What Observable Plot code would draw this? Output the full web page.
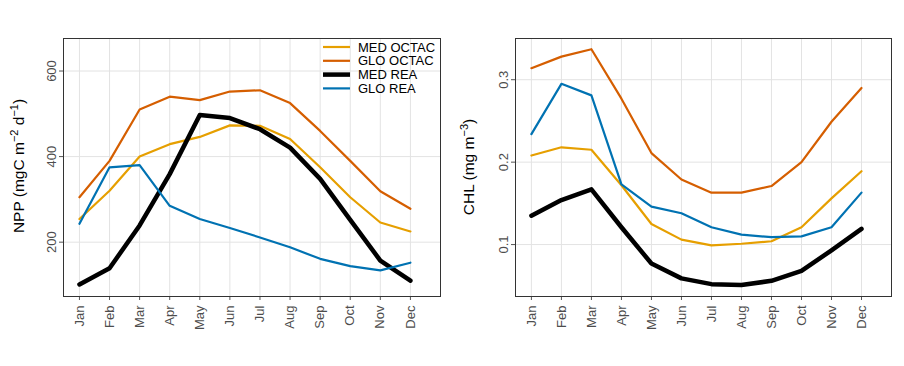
<!DOCTYPE html>
<html><head><meta charset="utf-8">
<script src="https://cdn.jsdelivr.net/npm/d3@7"></script>
<script src="https://cdn.jsdelivr.net/npm/@observablehq/plot@0.6"></script>
<style>
body{margin:0;background:#fff;font-family:"Liberation Sans",Arial,sans-serif}
#wrap{display:flex;width:904px;height:366px;position:relative}
</style>
</head><body><div id="wrap"></div>
<script>
const months = ["Jan","Feb","Mar","Apr","May","Jun","Jul","Aug","Sep","Oct","Nov","Dec"];
const seriesNames = ["MED OCTAC","GLO OCTAC","MED REA","GLO REA"];
const seriesColors = ["#E69F00","#D55E00","#000000","#0072B2"];

// NPP (mgC m-2 d-1)
const nppMedOctac = [254,320,400,429,446,473,472,441,375,305,246,225];
const nppGloOctac = [305,390,510,540,532,552,555,525,460,390,319,278];
const nppMedRea   = [101,139,239,359,497,490,464,421,348,252,157,110];
const nppGloRea   = [243,375,380,285,254,233,211,188,161,144,134,152];
const nppTicks = [200,400,600];

// CHL (mg m-3)
const chlMedOctac = [0.208,0.218,0.215,0.172,0.125,0.106,0.099,0.101,0.104,0.121,0.156,0.189];
const chlGloOctac = [0.314,0.328,0.337,0.277,0.211,0.179,0.163,0.163,0.171,0.200,0.249,0.290];
const chlMedRea   = [0.135,0.154,0.167,0.121,0.077,0.059,0.052,0.051,0.056,0.068,0.093,0.119];
const chlGloRea   = [0.234,0.295,0.281,0.173,0.146,0.138,0.121,0.112,0.109,0.110,0.121,0.163];
const chlTicks = [0.1,0.2,0.3];

const seriesWidths = [2.2,2.2,4.5,2.2];

function table(arrs){
  return seriesNames.flatMap((s,i)=>arrs[i].map((v,k)=>({m:k+1,v,s})));
}

function panel(data, yDomain, yTicks, yFmt, mr){
  const mnum = d3.range(1,13);
  return Plot.plot({
    width:452, height:366, marginTop:38, marginBottom:70, marginLeft:63, marginRight:mr,
    style:{fontFamily:"'Liberation Sans', Arial, sans-serif", fontSize:"13px", color:"#4d4d4d", background:"white", overflow:"visible"},
    x:{domain:[0.47,13.0]},
    y:{domain:yDomain},
    marks:[
      Plot.gridX(mnum,{stroke:"#e3e3e3",strokeOpacity:1}),
      Plot.gridY(yTicks,{stroke:"#e3e3e3",strokeOpacity:1}),
      Plot.axisX(mnum,{tickFormat:d=>months[d-1],tickRotate:-90,tickSize:4,tickPadding:5,label:null,stroke:"#555"}),
      Plot.axisY(yTicks,{tickFormat:yFmt,tickRotate:-90,tickSize:4,tickPadding:4,label:null,stroke:"#555"}),
      ...seriesNames.map((s,i)=>Plot.line(data.filter(d=>d.s===s),{x:"m",y:"v",stroke:seriesColors[i],strokeWidth:seriesWidths[i],strokeLinejoin:"round"})),
      Plot.frame({stroke:"#333"})
    ]
  });
}

function addTitle(svg, x, y, parts){
  const t = d3.select(svg).append("text")
    .attr("transform",`translate(${x},${y}) rotate(-90)`)
    .attr("text-anchor","middle")
    .attr("fill","#000")
    .style("font-size","15.5px")
    .style("font-family","'Liberation Sans', Arial, sans-serif");
  parts.forEach(p=>{
    const ts = t.append("tspan").text(p.t);
    if(p.sup){ts.attr("dy",-6).style("font-size","11px");}
    else if(p.after){ts.attr("dy",6);}
  });
}

const wrap = document.getElementById("wrap");
const left = panel(table([nppMedOctac,nppGloOctac,nppMedRea,nppGloRea]),[73,676],nppTicks,d=>d,12);
const right = panel(table([chlMedOctac,chlGloOctac,chlMedRea,chlGloRea]),[0.037,0.35],chlTicks,d=>d3.format(".1f")(d),13);
wrap.appendChild(left);
wrap.appendChild(right);

addTitle(left,24,166,[{t:"NPP (mgC m"},{t:"−2",sup:true},{t:" d",after:true},{t:"−1",sup:true},{t:")",after:true}]);
addTitle(right,22,167,[{t:"CHL (mg m"},{t:"−3",sup:true},{t:")",after:true}]);

// legend inside left panel
const lg = d3.select(left).append("g")
  .style("font-family","'Liberation Sans', Arial, sans-serif").style("font-size","13px")
  .attr("text-anchor","start");
seriesNames.forEach((s,i)=>{
  const yy = 47 + i*13.8;
  lg.append("line").attr("x1",323).attr("x2",350).attr("y1",yy).attr("y2",yy)
    .attr("stroke",seriesColors[i]).attr("stroke-width",seriesWidths[i]);
  lg.append("text").attr("x",358).attr("y",yy).attr("dy","0.36em")
    .attr("text-anchor","start").style("text-anchor","start").attr("fill","#000").text(s);
});
</script>
</body></html>
